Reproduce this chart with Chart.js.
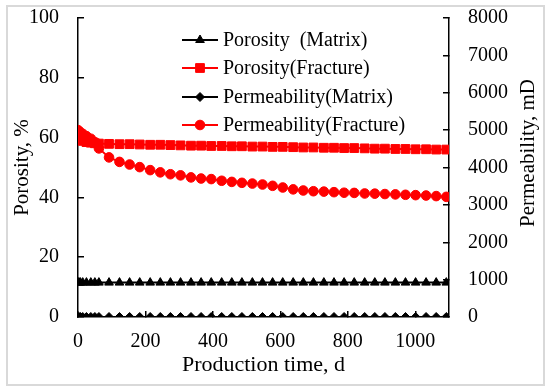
<!DOCTYPE html>
<html>
<head>
<meta charset="utf-8">
<script src="https://cdn.jsdelivr.net/npm/chart.js@4.4.0/dist/chart.umd.min.js"></script>
<style>
body { margin: 0; background: #fff; }
#frame { position: absolute; left: 6px; top: 5px; width: 535px; height: 377px; border: 2px solid #d9d9d9; }
#wrap { position: absolute; left: 0; top: 0; width: 550px; height: 392px; }
</style>
</head>
<body>
<div id="frame"></div>
<div id="wrap"><canvas id="chart" width="550" height="392"></canvas></div>
<script>
// production time, d
var days = [0, 3, 7, 14, 25, 38, 50,
    62, 92, 123, 153, 183, 214, 244, 274, 304, 335, 365, 395, 426, 456, 486, 517, 547, 577,
    607, 638, 668, 698, 729, 759, 789, 819, 850, 880, 910, 941, 971, 1001, 1032, 1062, 1092];

// porosity, %
var porosityMatrix = [11.5, 11.5, 11.5, 11.5, 11.5, 11.5, 11.5,
    11.5, 11.5, 11.5, 11.5, 11.5, 11.5, 11.5, 11.5, 11.5, 11.5, 11.5, 11.5, 11.5, 11.5, 11.5, 11.5, 11.5, 11.5,
    11.5, 11.5, 11.5, 11.5, 11.5, 11.5, 11.5, 11.5, 11.5, 11.5, 11.5, 11.5, 11.5, 11.5, 11.5, 11.5, 11.5];
var porosityFracture = [60.0, 59.7, 59.3, 58.9, 58.5, 58.3, 58.1,
    58.0, 57.9, 57.8, 57.8, 57.7, 57.6, 57.6, 57.5, 57.4, 57.3, 57.3, 57.2, 57.2, 57.1, 57.1, 57.0, 57.0, 56.9,
    56.9, 56.8, 56.7, 56.7, 56.6, 56.6, 56.5, 56.5, 56.4, 56.3, 56.3, 56.2, 56.2, 56.1, 56.1, 56.0, 56.0];

// permeability, mD
var permMatrix = [0, 0, 0, 0, 0, 0, 0,
    0, 0, 0, 0, 0, 0, 0, 0, 0, 0, 0, 0, 0, 0, 0, 0, 0, 0,
    0, 0, 0, 0, 0, 0, 0, 0, 0, 0, 0, 0, 0, 0, 0, 0, 0];
var permFracture = [5000, 4970, 4940, 4900, 4840, 4770, 4680,
    4510, 4270, 4150, 4080, 4010, 3930, 3870, 3820, 3790, 3735, 3705, 3690, 3645, 3615, 3590, 3570, 3545, 3510,
    3465, 3415, 3385, 3365, 3355, 3340, 3325, 3320, 3305, 3300, 3290, 3280, 3270, 3260, 3250, 3235, 3215];

var xTicks = [0, 200, 400, 600, 800, 1000];
var leftTicks = [0, 20, 40, 60, 80, 100];
var rightTicks = [0, 1000, 2000, 3000, 4000, 5000, 6000, 7000, 8000];

var legendLabels = ["Porosity  (Matrix)", "Porosity(Fracture)", "Permeability(Matrix)", "Permeability(Fracture)"];

var serif = "'Liberation Serif', 'Times New Roman', serif";

pts = (vals) => days.map((d, i) => ({ x: d, y: vals[i] }));

var datasets = [
    { label: legendLabels[0], data: pts(porosityMatrix), yAxisID: 'yL', borderColor: '#000', backgroundColor: '#000', pointStyle: 'triangle', pointRadius: 5 },
    { label: legendLabels[1], data: pts(porosityFracture), yAxisID: 'yL', borderColor: '#ff0000', backgroundColor: '#ff0000', pointStyle: 'rect', pointRadius: 6.2 },
    { label: legendLabels[2], data: pts(permMatrix), yAxisID: 'yR', borderColor: '#000', backgroundColor: '#000', pointStyle: 'rectRot', pointRadius: 4.5 },
    { label: legendLabels[3], data: pts(permFracture), yAxisID: 'yR', borderColor: '#ff0000', backgroundColor: '#ff0000', pointStyle: 'circle', pointRadius: 4.8 }
];
datasets.forEach(ds => { ds.borderWidth = 2; ds.pointBorderWidth = 1; ds.pointHoverRadius = ds.pointRadius; });

// legend inside the plot + right axis title (reads bottom to top)
var extras = {
    id: 'extras',
    afterDraw: (chart) => {
        var ctx = chart.ctx;
        var rows = [40, 68, 97, 125];
        ctx.save();
        ctx.font = "20px " + serif;
        ctx.textBaseline = 'middle';
        ctx.textAlign = 'left';
        chart.data.datasets.forEach((ds, i) => {
            var y = rows[i];
            ctx.strokeStyle = ds.borderColor;
            ctx.lineWidth = 2;
            ctx.beginPath();
            ctx.moveTo(182, y);
            ctx.lineTo(218, y);
            ctx.stroke();
            ctx.fillStyle = ds.backgroundColor;
            ctx.lineWidth = 1;
            Chart.helpers.drawPoint(ctx, { pointStyle: ds.pointStyle, radius: ds.pointRadius, rotation: 0, borderWidth: 1 }, 200, y);
            ctx.fillStyle = '#000';
            ctx.fillText(ds.label, 223, y + 1);
        });
        ctx.translate(528, 153);
        ctx.rotate(-Math.PI / 2);
        ctx.font = "21px " + serif;
        ctx.textAlign = 'center';
        ctx.fillStyle = '#000';
        ctx.fillText("Permeability, mD", 0, 0);
        ctx.restore();
    }
};

var axisGrid = { drawOnChartArea: false, drawTicks: true, tickLength: -6, color: '#000', lineWidth: 1.5 };
var axisBorder = { display: true, color: '#000', width: 1.5 };
var tickFont = { family: serif, size: 20 };
var plain = (v) => String(v);
var noPad = (s, w) => { s.width = w; s.paddingTop = 0; s.paddingBottom = 0; };

var ctxL = document.getElementById("chart").getContext('2d');
var myChart = new Chart(ctxL, {
    type: 'line',
    data: { datasets: datasets },
    options: {
        responsive: false,
        animation: false,
        layout: { padding: { top: 18, left: 0, right: 0, bottom: 0 } },
        plugins: { legend: { display: false }, tooltip: { enabled: false } },
        scales: {
            x: {
                type: 'linear', min: 0, max: 1100,
                grid: axisGrid, border: axisBorder,
                ticks: { font: tickFont, color: '#000', padding: 19, maxRotation: 0, callback: plain },
                afterBuildTicks: (s) => { s.ticks = xTicks.map(v => ({ value: v })); },
                afterFit: (s) => { s.height = 75; },
                title: { display: true, text: 'Production time, d', color: '#000', font: { family: serif, size: 22 }, padding: { top: 0, bottom: 14 } }
            },
            yL: {
                type: 'linear', position: 'left', min: 0, max: 100,
                grid: axisGrid, border: axisBorder,
                ticks: { font: tickFont, color: '#000', padding: 25, callback: plain },
                afterBuildTicks: (s) => { s.ticks = leftTicks.map(v => ({ value: v })); },
                afterFit: (s) => noPad(s, 78),
                title: { display: true, text: 'Porosity, %', color: '#000', font: { family: serif, size: 21 }, padding: { top: 10, bottom: 0 } }
            },
            yR: {
                type: 'linear', position: 'right', min: 0, max: 8000,
                grid: axisGrid, border: axisBorder,
                ticks: { font: tickFont, color: '#000', padding: 25, callback: plain },
                afterBuildTicks: (s) => { s.ticks = rightTicks.map(v => ({ value: v })); },
                afterFit: (s) => noPad(s, 101)
            }
        }
    },
    plugins: [extras]
});
</script>
</body>
</html>
